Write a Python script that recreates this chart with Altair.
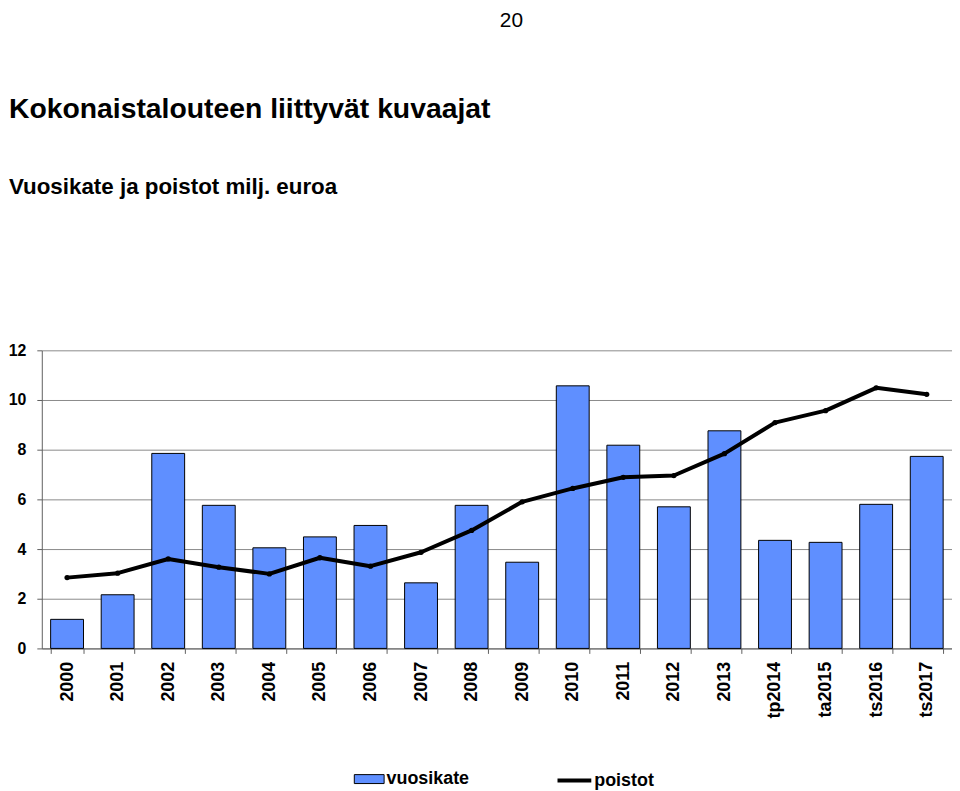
import altair as alt
import pandas as pd

page_number = "20"
heading = "Kokonaistalouteen liittyvät kuvaajat"
subheading = "Vuosikate ja poistot milj. euroa"

years = ["2000", "2001", "2002", "2003", "2004", "2005", "2006", "2007", "2008",
         "2009", "2010", "2011", "2012", "2013", "tp2014", "ta2015", "ts2016", "ts2017"]
vuosikate = [1.17, 2.16, 7.85, 5.76, 4.05, 4.49, 4.95, 2.64, 5.76,
             3.47, 10.57, 8.18, 5.70, 8.76, 4.35, 4.27, 5.80, 7.73]
poistot = [2.85, 3.03, 3.60, 3.27, 3.00, 3.65, 3.31, 3.87, 4.75,
           5.90, 6.44, 6.89, 6.96, 7.84, 9.09, 9.57, 10.49, 10.23]
bar_label = "vuosikate"
line_label = "poistot"
y_ticks = [0, 2, 4, 6, 8, 10, 12]

FONT = "Liberation Sans"
BAR_COLOR = "#5f8fff"
AXIS_GRAY = "#606060"

df = pd.DataFrame({"vuosi": years, "vuosikate": vuosikate, "poistot": poistot})

x_axis = alt.Axis(title=None, labelAngle=-90, labelFont=FONT, labelFontSize=18,
                  labelFontWeight="bold", labelColor="black", labelPadding=8,
                  tickBand="extent", tickSize=5, tickColor=AXIS_GRAY,
                  domainColor=AXIS_GRAY, grid=False)
x_scale = alt.Scale(paddingInner=0.35, paddingOuter=0.175)
y_axis = alt.Axis(title=None, values=y_ticks, labelFont=FONT, labelFontSize=16,
                  labelFontWeight="bold", labelColor="black", labelPadding=11,
                  tickSize=5, tickColor=AXIS_GRAY, domainColor=AXIS_GRAY,
                  grid=True, gridColor="#8a8a8a", gridWidth=1)
y_scale = alt.Scale(domain=[0, 12], nice=False)

bars = alt.Chart(df).transform_calculate(sarja=f"'{bar_label}'").mark_bar(
    stroke="black", strokeWidth=1
).encode(
    x=alt.X("vuosi:N", sort=years, scale=x_scale, axis=x_axis),
    y=alt.Y("vuosikate:Q", scale=y_scale, axis=y_axis),
    fill=alt.Fill("sarja:N", scale=alt.Scale(domain=[bar_label], range=[BAR_COLOR]),
                  legend=alt.Legend(title=None, orient="none", legendX=314, legendY=416,
                                    symbolType="M-1,-0.3H1V0.3H-1Z", symbolSize=900,
                                    symbolStrokeColor="black", symbolStrokeWidth=1,
                                    labelFont=FONT, labelFontSize=18, labelFontWeight="bold",
                                    labelColor="black", labelOffset=2)),
)

line = alt.Chart(df).transform_calculate(sarja2=f"'{line_label}'").mark_line(
    strokeWidth=4, strokeJoin="round"
).encode(
    x=alt.X("vuosi:N", sort=years, scale=x_scale, axis=x_axis),
    y=alt.Y("poistot:Q", scale=y_scale, axis=y_axis),
    stroke=alt.Stroke("sarja2:N", scale=alt.Scale(domain=[line_label], range=["black"]),
                      legend=alt.Legend(title=None, orient="none", legendX=517, legendY=414,
                                        symbolType="stroke", symbolSize=1156,
                                        symbolStrokeWidth=4,
                                        labelFont=FONT, labelFontSize=18, labelFontWeight="bold",
                                        labelColor="black", labelOffset=1)),
)

dots = alt.Chart(df).mark_circle(size=28, color="black", opacity=1).encode(
    x=alt.X("vuosi:N", sort=years, scale=x_scale, axis=x_axis),
    y=alt.Y("poistot:Q", scale=y_scale, axis=y_axis),
)


def text_layer(txt, xpos, ypos, size, weight):
    return alt.Chart(pd.DataFrame({"t": [txt]})).mark_text(
        align="left", baseline="alphabetic", font=FONT, fontSize=size,
        fontWeight=weight, color="black"
    ).encode(text="t:N", x=alt.value(xpos), y=alt.value(ypos))


texts = [
    text_layer(page_number, 461, -325, 21, "normal"),
    text_layer(heading, -33, -234, 28.5, "bold"),
    text_layer(subheading, -33, -157, 22.5, "bold"),
]

chart = alt.layer(bars, line, dots, *texts).properties(
    width=916, height=300,
    padding={"left": 0, "top": 0, "right": 0, "bottom": 0},
).configure_view(stroke=None).resolve_scale(y="shared", x="shared")

chart.save("out.html", embed_options={"renderer": "svg", "actions": False})
